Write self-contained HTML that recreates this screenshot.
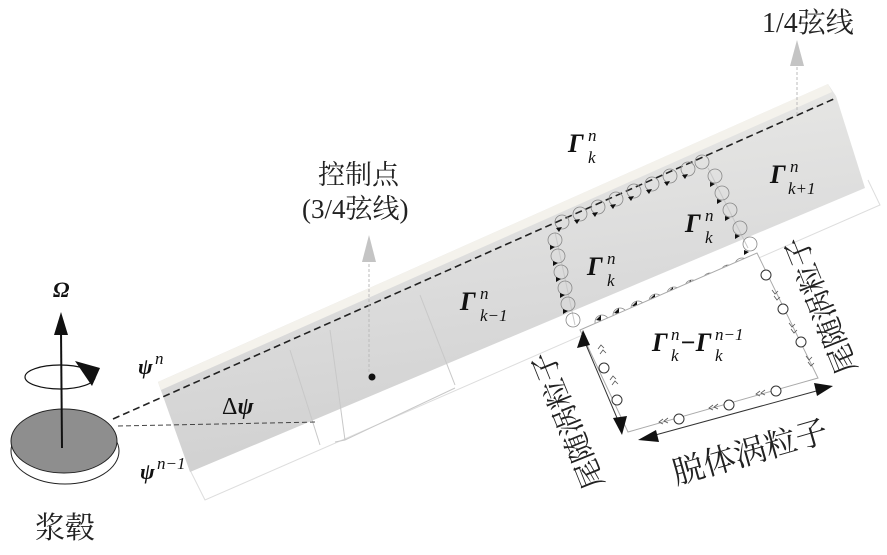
<!DOCTYPE html>
<html><head><meta charset="utf-8"><style>
html,body{margin:0;padding:0;background:#fff;}
svg{display:block;}
text{font-family:"Liberation Serif","Noto Serif CJK SC",serif;}
.cn{font-family:"Liberation Serif","Noto Serif CJK SC",serif;fill:#222;}
.g{font-style:italic;font-weight:bold;font-size:26px;}
.s{font-style:italic;font-size:17px;}
</style></head><body>
<svg width="887" height="555" viewBox="0 0 887 555" xmlns="http://www.w3.org/2000/svg">
<defs>
<linearGradient id="bg" x1="0" y1="0" x2="0.25" y2="1">
<stop offset="0" stop-color="#f2f1ed"/><stop offset="0.15" stop-color="#e8e8e6"/><stop offset="0.6" stop-color="#dbdbdb"/><stop offset="1" stop-color="#d0d0d0"/>
</linearGradient>
</defs>
<polyline points="190,470 205,500 880,205 868,180" fill="none" stroke="#ddd" stroke-width="1"/>
<polygon points="158,382 828,84 836,96 865,188 190,472" fill="url(#bg)"/>
<polygon points="158,382 828,84 832,92 161,390" fill="#f4f2ec"/>
<g stroke="#c8c8c8" stroke-width="1" fill="none">
<line x1="290" y1="350" x2="320" y2="445"/><line x1="330" y1="330" x2="345" y2="440"/>
<line x1="420" y1="295" x2="455" y2="385"/><line x1="555" y1="232" x2="575" y2="325"/>
<line x1="708" y1="168" x2="748" y2="248"/>
<polyline points="335,442 345,440 455,388"/>
</g>
<line x1="113" y1="419" x2="836" y2="98" stroke="#222" stroke-width="1.6" stroke-dasharray="7,4"/>
<line x1="118" y1="426" x2="318" y2="422" stroke="#444" stroke-width="1" stroke-dasharray="5,3"/>
<line x1="797" y1="115" x2="797" y2="62" stroke="#bbb" stroke-dasharray="3,2"/>
<polygon points="790,66 804,66 797,40" fill="#c4c4c4"/>
<text x="762" y="32" font-size="28" class="cn">1/4弦线</text>
<line x1="369" y1="372" x2="369" y2="258" stroke="#bbb" stroke-dasharray="3,2"/>
<polygon points="362,262 376,262 369,235" fill="#c4c4c4"/>
<circle cx="372" cy="377" r="3.5" fill="#111"/>
<text x="318" y="184" font-size="27" class="cn">控制点</text>
<text x="302" y="218" font-size="27" class="cn">(3/4弦线)</text>
<g fill="none" stroke="#888" stroke-width="0.8">
<circle cx="562" cy="222" r="7"/><circle cx="580" cy="214" r="7"/><circle cx="598" cy="207" r="7"/><circle cx="616" cy="199" r="7"/><circle cx="634" cy="191" r="7"/><circle cx="652" cy="184" r="7"/><circle cx="670" cy="176" r="7"/><circle cx="688" cy="169" r="7"/><circle cx="702" cy="162" r="7"/>
<circle cx="555" cy="240" r="7"/><circle cx="558" cy="256" r="7"/><circle cx="561" cy="272" r="7"/><circle cx="565" cy="288" r="7"/><circle cx="568" cy="304" r="7"/><circle cx="573" cy="320" r="7"/>
<circle cx="715" cy="176" r="7"/><circle cx="722" cy="193" r="7"/><circle cx="730" cy="210" r="7"/><circle cx="740" cy="228" r="7"/><circle cx="750" cy="244" r="7"/>
<circle cx="602" cy="322" r="7"/><circle cx="620" cy="315" r="7"/><circle cx="638" cy="308" r="7"/><circle cx="656" cy="301" r="7"/><circle cx="674" cy="294" r="7"/><circle cx="692" cy="287" r="7"/><circle cx="710" cy="280" r="7"/><circle cx="728" cy="272" r="7"/><circle cx="742" cy="265" r="7"/>
</g>
<g fill="#111">
<path d="M556,228l6,-1l-3,5z"/><path d="M574,220l6,-1l-3,5z"/><path d="M592,213l6,-1l-3,5z"/><path d="M610,205l6,-1l-3,5z"/><path d="M628,197l6,-1l-3,5z"/><path d="M646,190l6,-1l-3,5z"/><path d="M664,182l6,-1l-3,5z"/><path d="M682,175l6,-1l-3,5z"/>
<path d="M550,245l5,2l-5,3z"/><path d="M553,261l5,2l-5,3z"/><path d="M556,277l5,2l-5,3z"/><path d="M560,293l5,2l-5,3z"/><path d="M563,309l5,2l-5,3z"/>
<path d="M710,182l5,2l-5,3z"/><path d="M717,199l5,2l-5,3z"/><path d="M725,216l5,2l-5,3z"/><path d="M735,234l5,2l-5,3z"/><path d="M744,250l5,2l-5,3z"/>
<path d="M596,320l5,-5l0,6z"/><path d="M614,313l5,-5l0,6z"/><path d="M632,306l5,-5l0,6z"/><path d="M650,299l5,-5l0,6z"/><path d="M668,292l5,-5l0,6z"/><path d="M686,285l5,-5l0,6z"/><path d="M704,278l5,-5l0,6z"/><path d="M722,270l5,-5l0,6z"/>
</g>
<polygon points="580,330 757,253 818,378 628,432" fill="#fff" stroke="#aaa" stroke-width="1"/>
<g fill="#fff" stroke="#333" stroke-width="1">
<circle cx="766" cy="275" r="5"/><circle cx="783" cy="309" r="5"/><circle cx="801" cy="342" r="5"/>
<circle cx="604" cy="368" r="5"/><circle cx="617" cy="400" r="5"/>
<circle cx="776" cy="391" r="5"/><circle cx="729" cy="405" r="5"/><circle cx="679" cy="419" r="5"/>
</g>
<g stroke="#555" stroke-width="0.8" fill="none">
<path d="M772,290l3,4l3,-3M774,296l3,4l3,-3"/><path d="M789,323l3,4l3,-3M791,329l3,4l3,-3"/><path d="M806,356l3,4l3,-3M808,362l3,4l3,-3"/>
<path d="M600,354l3,-4l3,3M598,349l3,-4l3,3"/><path d="M612,385l3,-4l3,3M610,380l3,-4l3,3"/>
<path d="M765,390l-4,3l4,2M760,391l-4,3l4,2"/><path d="M718,404l-4,3l4,2M713,405l-4,3l4,2"/><path d="M668,418l-4,3l4,2M663,419l-4,3l4,2"/>
</g>
<line x1="584" y1="340" x2="620" y2="425" stroke="#333" stroke-width="1"/>
<polygon points="583,330 577,348 590,345" fill="#111"/>
<polygon points="622,435 613,418 627,416" fill="#111"/>
<line x1="648" y1="437" x2="820" y2="390" stroke="#333" stroke-width="1"/>
<polygon points="638,440 656,430 659,442" fill="#111"/>
<polygon points="833,386 814,383 817,396" fill="#111"/>
<g fill="#111">
<text x="568" y="152" class="g">Γ</text><text x="588" y="141" class="s">n</text><text x="588" y="163" class="s">k</text>
<text x="770" y="183" class="g">Γ</text><text x="790" y="172" class="s">n</text><text x="788" y="194" class="s">k+1</text>
<text x="685" y="232" class="g">Γ</text><text x="705" y="221" class="s">n</text><text x="705" y="243" class="s">k</text>
<text x="587" y="275" class="g">Γ</text><text x="607" y="264" class="s">n</text><text x="607" y="286" class="s">k</text>
<text x="460" y="310" class="g">Γ</text><text x="480" y="299" class="s">n</text><text x="480" y="321" class="s">k−1</text>
<text x="652" y="351" class="g">Γ</text><text x="671" y="340" class="s">n</text><text x="671" y="361" class="s">k</text>
<text x="680" y="351" class="g">−Γ</text><text x="715" y="340" class="s">n−1</text><text x="715" y="361" class="s">k</text>
<text x="138" y="374" font-style="italic" font-weight="bold" font-size="22">ψ</text><text x="155" y="364" class="s">n</text>
<text x="222" y="414" font-size="24">Δ<tspan font-style="italic" font-weight="bold">ψ</tspan></text>
<text x="140" y="479" font-style="italic" font-weight="bold" font-size="22">ψ</text><text x="157" y="469" class="s">n−1</text>
<text x="53" y="297" font-style="italic" font-weight="bold" font-size="22">Ω</text>
</g>
<ellipse cx="65" cy="451" rx="54" ry="33" fill="#fff" stroke="#222" stroke-width="1"/>
<ellipse cx="64" cy="441" rx="53" ry="32" fill="#8e8e8e" stroke="#222" stroke-width="1"/>
<line x1="62" y1="448" x2="61" y2="330" stroke="#111" stroke-width="2"/>
<polygon points="61,312 54,335 68,335" fill="#111"/>
<ellipse cx="60" cy="377" rx="35" ry="12" fill="none" stroke="#111" stroke-width="1.2"/>
<polygon points="75,361 100,368 92,386" fill="#111"/>
<text x="35" y="538" font-size="30" class="cn">浆毂</text>
<text class="cn" font-size="32" text-anchor="middle" dominant-baseline="central" transform="translate(750,452) rotate(-16)">脱体涡粒子</text>
<text class="cn" font-size="29" text-anchor="middle" dominant-baseline="central" transform="translate(569,420) rotate(-112)">尾随涡粒子</text>
<text class="cn" font-size="29" text-anchor="middle" dominant-baseline="central" transform="translate(822,305) rotate(-112)">尾随涡粒子</text>
</svg>
</body></html>
